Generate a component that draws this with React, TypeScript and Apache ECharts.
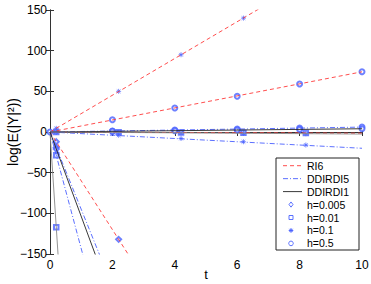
import React, { useEffect, useRef } from 'react';
import * as echarts from 'echarts';

const FONT = "'Liberation Sans', Arial, Helvetica, sans-serif";

const xTickValues = [0, 2, 4, 6, 8, 10];
const yTickValues = [-150, -100, -50, 0, 50, 100, 150];

// Lines: [t, log(E(|Y|^2))]
const ri6H01 = [[0, 0], [10, 226]];
const ri6H05 = [[0, 0], [10, 74]];
const ri6H001 = [[0, 0], [10, -1.5]];
const ri6H0005 = [[0, 0], [3, -180]];
const dd5H05 = [[0, 0], [10, 6]];
const dd5H01 = [[0, 0], [10, -20]];
const dd5H001 = [[0, 0], [1.2, -172]];
const dd5H0005 = [[0, 0], [2, -190]];
const dd1H05 = [[0, 0], [10, 4]];
const dd1H01 = [[0, 0], [10, -2.5]];
const dd1H001 = [[0, 0], [0.3, -175]];
const dd1H0005 = [[0, 0], [1.6, -166]];

// Markers
const markH0005 = [[0.2, -12], [2.2, -132], [0.2, -19], [0.2, -21]];
const markH001 = [[0.2, 0], [2.2, -0.3], [4.2, -0.6], [6.2, -0.9], [8.2, -1.2], [0.2, -28.6], [0.2, -117]];
const markH01 = [
  [0.2, 4.5], [2.2, 50], [4.2, 95], [6.2, 140],
  [0.2, -0.4], [2.2, -4], [4.2, -8], [6.2, -12], [8.2, -16],
  [0.2, -0.05], [2.2, -0.6], [4.2, -1.1], [6.2, -1.6], [8.2, -2.1],
];
const markH05 = [
  [0, 0], [2, 15], [4, 29.5], [6, 44], [8, 59], [10, 74],
  [2, 1.2], [4, 2.4], [6, 3.6], [8, 4.8], [10, 6],
  [2, 0.8], [4, 1.6], [6, 2.4], [8, 3.2], [10, 4],
];

const legendNames = ['RI6', 'DDIRDI5', 'DDIRDI1', 'h=0.005', 'h=0.01', 'h=0.1', 'h=0.5'];

const RED = '#ff3a3a';
const BLUE = '#4a60ff';
const MARK = '#4a62ff';
const BLACK = '#222';
const GRAY = '#888';

const DASH_RED = [4, 3];
const DASH_DOT = [5, 2, 1, 2];

const STAR = 'path://M0,-5L0,5M-5,0L5,0M-3.6,-3.6L3.6,3.6M-3.6,3.6L3.6,-3.6';

function lineSeries(name: string, data: number[][], color: string, type: any, width = 0.9) {
  return {
    name,
    type: 'line',
    data,
    symbol: 'none',
    showSymbol: false,
    clip: true,
    lineStyle: { color, width, type },
    itemStyle: { color },
    silent: true,
  };
}

function markSeries(name: string, data: number[][], symbol: string, size: number) {
  return {
    name,
    type: 'scatter',
    data,
    symbol,
    symbolSize: size,
    clip: true,
    itemStyle: { color: MARK, borderColor: MARK, borderWidth: 0.9 },
    silent: true,
  };
}

function buildLegend() {
  const boxX = 276, boxY = 158, boxW = 83, boxH = 92;
  const row0 = 165.7, rowH = 12.95;
  const lx0 = 283, lx1 = 302, mx = 291, tx = 307;
  const children: any[] = [
    { type: 'rect', shape: { x: boxX, y: boxY, width: boxW, height: boxH },
      style: { fill: '#fff', stroke: '#222', lineWidth: 1 } },
  ];
  const lineStyles: any[] = [
    { stroke: RED, lineDash: DASH_RED },
    { stroke: BLUE, lineDash: DASH_DOT },
    { stroke: BLACK, lineDash: null },
  ];
  legendNames.forEach((name, i) => {
    const cy = row0 + rowH * i;
    if (i < 3) {
      children.push({ type: 'line', shape: { x1: lx0, y1: cy, x2: lx1, y2: cy },
        style: { ...lineStyles[i], lineWidth: 0.9 } });
    } else {
      const ms = { fill: '#fff', stroke: MARK, lineWidth: 0.9 };
      if (name === 'h=0.005') {
        children.push({ type: 'polygon', shape: { points: [[mx, cy - 2.6], [mx + 2, cy], [mx, cy + 2.6], [mx - 2, cy]] }, style: ms });
      } else if (name === 'h=0.01') {
        children.push({ type: 'rect', shape: { x: mx - 2, y: cy - 2, width: 4, height: 4 }, style: ms });
      } else if (name === 'h=0.1') {
        children.push({ type: 'line', shape: { x1: mx - 2.3, y1: cy, x2: mx + 2.3, y2: cy }, style: { stroke: MARK, lineWidth: 1 } });
        children.push({ type: 'line', shape: { x1: mx, y1: cy - 2.3, x2: mx, y2: cy + 2.3 }, style: { stroke: MARK, lineWidth: 1 } });
        children.push({ type: 'line', shape: { x1: mx - 1.6, y1: cy - 1.6, x2: mx + 1.6, y2: cy + 1.6 }, style: { stroke: MARK, lineWidth: 1 } });
        children.push({ type: 'line', shape: { x1: mx - 1.6, y1: cy + 1.6, x2: mx + 1.6, y2: cy - 1.6 }, style: { stroke: MARK, lineWidth: 1 } });
      } else {
        children.push({ type: 'circle', shape: { cx: mx, cy, r: 2.3 }, style: ms });
      }
    }
    children.push({ type: 'text', x: tx, y: cy,
      style: { text: name, fill: '#000', font: `10.5px ${FONT}`, textVerticalAlign: 'middle', verticalAlign: 'middle', align: 'left' } });
  });
  return [{ type: 'group', z: 100, children }];
}

export default function App() {
  const ref = useRef<HTMLDivElement>(null);
  useEffect(() => {
    if (!ref.current) return;
    const chart = echarts.init(ref.current, null, { renderer: 'svg' });
    const axisCommon = {
      axisLine: { show: true, lineStyle: { color: '#333', width: 1 } },
      axisTick: { show: true, inside: true, length: 4, lineStyle: { color: '#333', width: 1 } },
      splitLine: { show: false },
    };
    chart.setOption({
      animation: false,
      backgroundColor: '#fff',
      textStyle: { fontFamily: FONT },
      grid: { left: 50, right: 9, top: 10, bottom: 30, containLabel: false, outerBoundsMode: 'none' },
      xAxis: [
        {
          type: 'value', min: 0, max: 10, interval: 2, position: 'bottom',
          ...axisCommon,
          axisLabel: { fontSize: 12, color: '#000', margin: 5, fontFamily: FONT,
            formatter: (v: number) => (xTickValues.includes(v) ? String(v) : '') },
          name: 't', nameLocation: 'middle', nameGap: 14, nameMoveOverlap: false,
          nameTextStyle: { fontSize: 13, color: '#000', fontFamily: FONT },
        },
        {
          type: 'value', min: 0, max: 10, interval: 2, position: 'top',
          ...axisCommon, axisLabel: { show: false },
        },
      ],
      yAxis: [
        {
          type: 'value', min: -150, max: 150, interval: 50, position: 'left',
          ...axisCommon,
          axisLabel: { fontSize: 12, color: '#000', margin: 3, fontFamily: FONT,
            formatter: (v: number) => (yTickValues.includes(v) ? String(v).replace('-', '\u2212') : '') },
          name: 'log(E(|Y|\u00b2))', nameLocation: 'middle', nameGap: 30, nameMoveOverlap: false,
          nameTextStyle: { fontSize: 14, color: '#000', fontFamily: FONT },
        },
        {
          type: 'value', min: -150, max: 150, interval: 50, position: 'right',
          ...axisCommon, axisLabel: { show: false },
        },
      ],
      graphic: buildLegend(),
      series: [
        lineSeries('RI6', ri6H01, RED, DASH_RED),
        lineSeries('RI6', ri6H05, RED, DASH_RED),
        lineSeries('RI6', ri6H001, RED, DASH_RED),
        lineSeries('RI6', ri6H0005, RED, DASH_RED),
        lineSeries('DDIRDI5', dd5H05, BLUE, DASH_DOT),
        lineSeries('DDIRDI5', dd5H01, BLUE, DASH_DOT),
        lineSeries('DDIRDI5', dd5H001, BLUE, DASH_DOT),
        lineSeries('DDIRDI5', dd5H0005, BLUE, DASH_DOT),
        lineSeries('DDIRDI1', dd1H05, BLACK, 'solid'),
        lineSeries('DDIRDI1', dd1H01, GRAY, 'solid'),
        lineSeries('DDIRDI1', dd1H001, GRAY, 'solid'),
        lineSeries('DDIRDI1', dd1H0005, BLACK, 'solid'),
        markSeries('h=0.005', markH0005, 'emptyDiamond', 5),
        markSeries('h=0.01', markH001, 'emptyRect', 4.5),
        markSeries('h=0.1', markH01, STAR, 5),
        markSeries('h=0.5', markH05, 'emptyCircle', 5),
      ],
    });
    return () => chart.dispose();
  }, []);
  return (
    <div
      ref={ref}
      style={{ position: 'fixed', left: 0, top: 0, width: 371, height: 284, background: '#fff' }}
    />
  );
}
